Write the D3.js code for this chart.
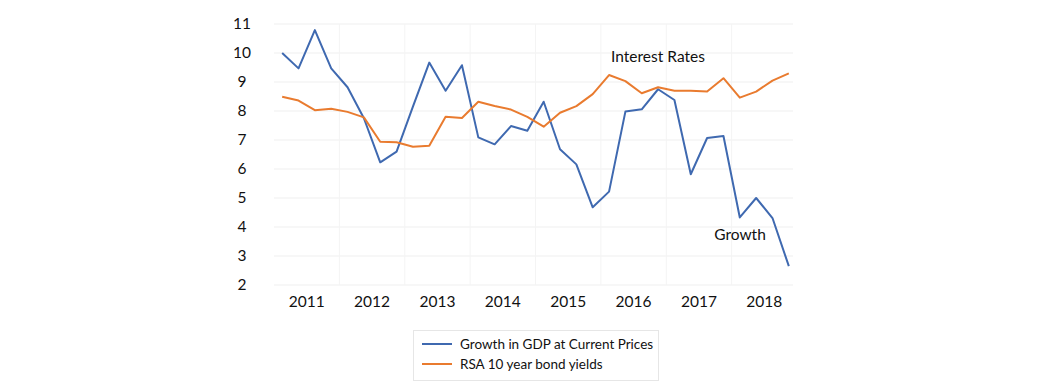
<!DOCTYPE html>
<html>
<head>
<meta charset="utf-8">
<script src="https://cdn.jsdelivr.net/npm/d3@7"></script>
<style>
  body { margin: 0; background: #fff; }
  text { font-family: Lato, "Open Sans", sans-serif; fill: #111; }
</style>
</head>
<body>
<div id="chart"></div>
<script>
// quarterly data, 2011 Q1 .. 2018 Q4
var years = ["2011", "2012", "2013", "2014", "2015", "2016", "2017", "2018"];
var quarters = ["Q1", "Q2", "Q3", "Q4"];
var yTicks = [2, 3, 4, 5, 6, 7, 8, 9, 10, 11];

var growth = [10.0, 9.47, 10.79, 9.47, 8.82, 7.75, 6.23, 6.6,
              8.15, 9.67, 8.7, 9.58, 7.09, 6.85, 7.48, 7.32,
              8.32, 6.68, 6.16, 4.68, 5.22, 7.98, 8.06, 8.75,
              8.38, 5.82, 7.07, 7.14, 4.33, 5.0, 4.31, 2.65];

var bondYields = [8.49, 8.36, 8.03, 8.08, 7.97, 7.78, 6.94, 6.92,
                  6.77, 6.80, 7.80, 7.76, 8.32, 8.17, 8.05, 7.80,
                  7.46, 7.94, 8.17, 8.58, 9.24, 9.03, 8.61, 8.82,
                  8.70, 8.70, 8.67, 9.13, 8.46, 8.67, 9.05, 9.30];

var seriesNames = ["Growth in GDP at Current Prices", "RSA 10 year bond yields"];
var colors = ["#3f69b0", "#e97b2f"];

var w = 1040, h = 388;
var plotLeft = 274, plotRight = 797, plotTop = 24, plotBottom = 285;

var periods = [];
years.forEach(function (y) {
  quarters.forEach(function (q) { periods.push(y + q); });
});

var svg = d3.select("#chart").append("svg")
  .attr("width", w)
  .attr("height", h);

var x = d3.scaleBand().domain(periods).range([plotLeft, plotRight]);
var y = d3.scaleLinear().domain([2, 11]).range([plotBottom, plotTop]);

// gridlines
svg.append("g")
  .selectAll("line")
  .data(yTicks)
  .enter().append("line")
  .attr("x1", plotLeft).attr("x2", plotRight - 4)
  .attr("y1", d => y(d)).attr("y2", d => y(d))
  .style("stroke", "#efefef").style("stroke-width", 1);

svg.append("g")
  .selectAll("line")
  .data(years.slice(1))
  .enter().append("line")
  .attr("x1", d => x(d + "Q1")).attr("x2", d => x(d + "Q1"))
  .attr("y1", plotTop).attr("y2", plotBottom)
  .style("stroke", "#f4f4f4").style("stroke-width", 1);

// y labels
svg.append("g")
  .selectAll("text")
  .data(yTicks)
  .enter().append("text")
  .attr("x", 242)
  .attr("y", d => y(d))
  .attr("dy", "0.35em")
  .attr("text-anchor", "middle")
  .style("font-size", "15.5px")
  .text(d => d);

// x labels, centred on each year's group of quarters
svg.append("g")
  .selectAll("text")
  .data(years)
  .enter().append("text")
  .attr("x", d => (x(d + "Q1") + x(d + "Q4") + x.bandwidth()) / 2)
  .attr("y", 302)
  .attr("dy", "0.35em")
  .attr("text-anchor", "middle")
  .style("font-size", "15.5px")
  .text(d => d);

var line = d3.line()
  .x((d, i) => x(periods[i]) + x.bandwidth() / 2)
  .y(d => y(d));

[growth, bondYields].forEach(function (s, k) {
  svg.append("path")
    .datum(s)
    .attr("d", line)
    .style("fill", "none")
    .style("stroke", colors[k])
    .style("stroke-width", 2)
    .style("stroke-linejoin", "round");
});

// annotations
svg.append("text")
  .attr("x", 658).attr("y", 57).attr("dy", "0.35em")
  .attr("text-anchor", "middle")
  .style("font-size", "15.5px")
  .text("Interest Rates");

svg.append("text")
  .attr("x", 740).attr("y", 235).attr("dy", "0.35em")
  .attr("text-anchor", "middle")
  .style("font-size", "15.5px")
  .text("Growth");

// legend
var lg = svg.append("g");
lg.append("rect")
  .attr("x", 413.5).attr("y", 330.5)
  .attr("width", 245).attr("height", 50)
  .style("fill", "#fff").style("stroke", "#e6e6e6");

seriesNames.forEach(function (n, k) {
  var ly = 344 + k * 20;
  lg.append("line")
    .attr("x1", 422).attr("x2", 452)
    .attr("y1", ly).attr("y2", ly)
    .style("stroke", colors[k]).style("stroke-width", 2);
  lg.append("text")
    .attr("x", 460).attr("y", ly).attr("dy", "0.35em")
    .style("font-size", "13.5px")
    .text(n);
});
</script>
</body>
</html>
